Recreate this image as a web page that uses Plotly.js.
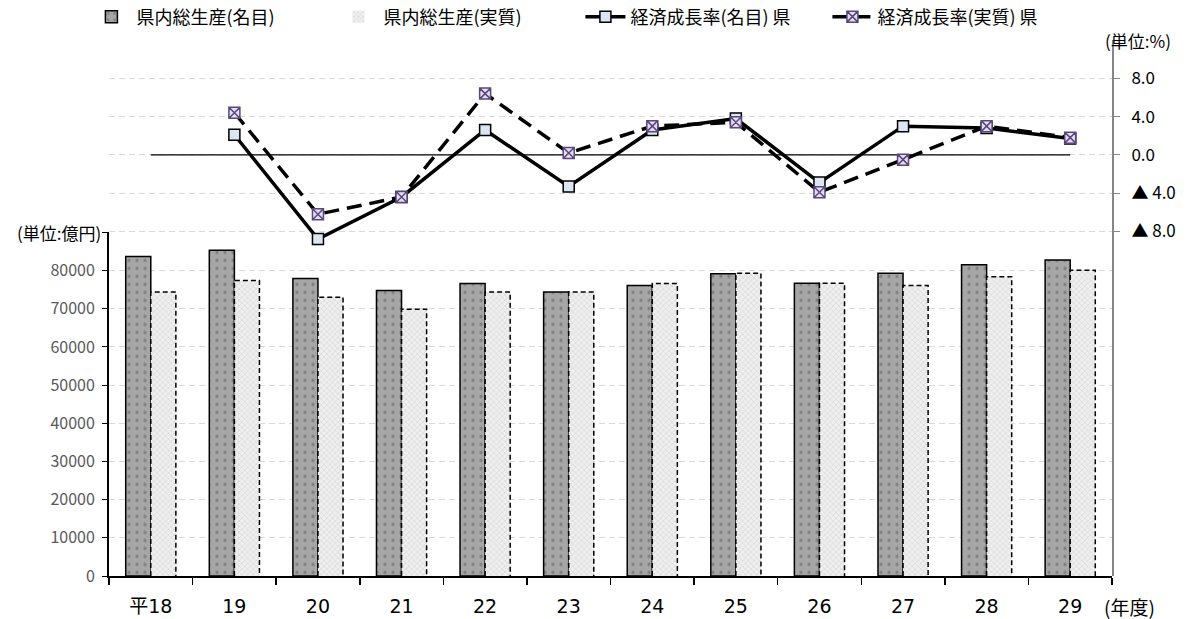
<!DOCTYPE html>
<html>
<head>
<meta charset="utf-8">
<script src="https://cdn.plot.ly/plotly-3.0.1.min.js"></script>
<style>
  html, body { margin: 0; padding: 0; background: #ffffff; }
  #chart { width: 1195px; height: 619px; }
</style>
</head>
<body>
<div id="chart"></div>
<script>
// 年度
const categories = ['平18', '19', '20', '21', '22', '23', '24', '25', '26', '27', '28', '29'];

// 県内総生産（億円）
const gdpNominal = [83700, 85300, 77900, 74800, 76600, 74400, 76100, 79200, 76700, 79300, 81500, 82800];
const gdpReal    = [74400, 77400, 73000, 69900, 74400, 74400, 76600, 79300, 76700, 76100, 78400, 80100];

// 経済成長率（%）
const growthNominal = [null, 2.1, -8.8, -4.4, 2.6, -3.3, 2.6, 3.8, -2.9, 3.0, 2.8, 1.7];
const growthReal    = [null, 4.4, -6.2, -4.4, 6.4, 0.2, 3.0, 3.4, -3.9, -0.5, 3.0, 1.8];

// 軸目盛
const gdpTicks = [0, 10000, 20000, 30000, 40000, 50000, 60000, 70000, 80000, 90000];
const gdpTickText = ['0', '10000', '20000', '30000', '40000', '50000', '60000', '70000', '80000', ''];
const rateTicks = [-8, -4, 0, 4, 8, 12];
const rateTickText = ['▲ 8.0', '▲ 4.0', '0.0', '4.0', '8.0', ''];

const FONT = '"Noto Sans CJK JP", "Noto Sans", sans-serif';
const FONT_WIDE = '"DejaVu Sans", "Noto Sans CJK JP", sans-serif';
const BAR_W = 0.3;

const traces = [
  {
    type: 'bar',
    name: '県内総生産(名目)',
    x: categories,
    y: gdpNominal,
    xaxis: 'x', yaxis: 'y',
    marker: {
      color: '#a6a6a6',
      line: { color: '#000000', width: 1.5 },
      pattern: { shape: '.', fgcolor: '#808080', bgcolor: '#a6a6a6', size: 8, solidity: 0.14, fillmode: 'replace' }
    },
    hoverinfo: 'x+y'
  },
  {
    type: 'bar',
    name: '県内総生産(実質)',
    x: categories,
    y: gdpReal,
    xaxis: 'x', yaxis: 'y',
    marker: {
      color: '#efefef',
      line: { color: 'rgba(0,0,0,0)', width: 0 },
      pattern: { shape: 'x', fgcolor: '#d6d6d6', bgcolor: '#efefef', size: 4, solidity: 0.3, fillmode: 'replace' }
    },
    hoverinfo: 'x+y'
  },
  {
    type: 'scatter',
    mode: 'lines+markers',
    name: '経済成長率(名目) 県',
    x: categories,
    y: growthNominal,
    xaxis: 'x', yaxis: 'y2',
    connectgaps: false,
    line: { color: '#000000', width: 3.5 },
    marker: { symbol: 'square', size: 11, color: '#dce6f2', line: { color: '#000000', width: 1.5 } }
  },
  {
    type: 'scatter',
    mode: 'lines+markers',
    name: '経済成長率(実質) 県',
    x: categories,
    y: growthReal,
    xaxis: 'x', yaxis: 'y2',
    connectgaps: false,
    line: { color: '#000000', width: 3.5, dash: '15px,8px' },
    marker: { symbol: 'square-x', size: 11, color: '#e4dfec', line: { color: '#5b4680', width: 1.5 } }
  }
];

// 実質の棒の破線の枠
const shapes = gdpReal.map((v, i) => ({
  type: 'path',
  xref: 'x', yref: 'y',
  path: `M ${i},0 L ${i},${v} L ${i + BAR_W},${v} L ${i + BAR_W},0`,
  line: { color: '#000000', width: 1.5, dash: '5px,3px' },
  fillcolor: 'rgba(0,0,0,0)',
  layer: 'above'
}));

// 成長率 0% の基準線
shapes.push({
  type: 'line',
  xref: 'x', yref: 'y2',
  x0: 0, x1: categories.length - 1,
  y0: 0, y1: 0,
  line: { color: '#000000', width: 1.3 },
  layer: 'between'
});

const layout = {
  width: 1195,
  height: 619,
  margin: { l: 109, r: 83, t: 40, b: 43, autoexpand: false },
  paper_bgcolor: '#ffffff',
  plot_bgcolor: 'rgba(0,0,0,0)',
  font: { family: FONT, color: '#000000', size: 15 },
  barmode: 'group',
  bargap: 0.4,
  bargroupgap: 0,
  showlegend: true,
  legend: {
    orientation: 'h',
    x: 0.47, xanchor: 'center',
    y: 1.043, yanchor: 'middle',
    font: { family: FONT, size: 18, color: '#000000' },
    bgcolor: 'rgba(0,0,0,0)',
    itemwidth: 40,
    entrywidth: 192,
    entrywidthmode: 'pixels',
    traceorder: 'normal'
  },
  xaxis: {
    type: 'category',
    range: [-0.5, categories.length - 0.5],
    domain: [0, 1],
    anchor: 'y',
    showline: true,
    linecolor: '#000000',
    linewidth: 2,
    ticks: 'outside',
    tickson: 'boundaries',
    ticklen: 7,
    tickwidth: 1.5,
    tickcolor: '#000000',
    ticklabelstandoff: 12,
    tickfont: { family: FONT_WIDE, size: 19, color: '#000000' },
    showgrid: false,
    zeroline: false,
    fixedrange: true
  },
  yaxis: {
    domain: [0, 0.641],
    range: [0, 90000],
    anchor: 'x',
    tickvals: gdpTicks,
    ticktext: gdpTickText,
    tickfont: { family: FONT, size: 16, color: '#595959' },
    showline: true,
    linecolor: '#000000',
    linewidth: 2,
    ticks: 'outside',
    ticklen: 5,
    tickwidth: 1,
    tickcolor: '#000000',
    ticklabelstandoff: 4,
    showgrid: true,
    gridcolor: '#d9d9d9',
    gridwidth: 1,
    griddash: '6px,4px',
    zeroline: false,
    fixedrange: true
  },
  yaxis2: {
    domain: [0, 1],
    range: [-44, 12],
    anchor: 'x',
    side: 'right',
    tickvals: rateTicks,
    ticktext: rateTickText,
    tickfont: { family: FONT, size: 17, color: '#000000' },
    showline: true,
    linecolor: '#868686',
    linewidth: 2,
    ticks: 'outside',
    ticklen: 6,
    tickwidth: 1,
    tickcolor: '#868686',
    ticklabelstandoff: 8,
    showgrid: true,
    gridcolor: '#d9d9d9',
    gridwidth: 1,
    griddash: '6px,4px',
    zeroline: false,
    fixedrange: true
  },
  shapes: shapes,
  annotations: [
    {
      text: '(単位:億円)',
      xref: 'paper', x: -0.006, xanchor: 'right',
      yref: 'y', y: 90000, yanchor: 'middle',
      showarrow: false,
      font: { family: FONT, size: 17, color: '#000000' }
    },
    {
      text: '(単位:%)',
      xref: 'paper', x: 1.026, xanchor: 'center',
      yref: 'y2', y: 12, yanchor: 'middle',
      showarrow: false,
      font: { family: FONT, size: 17, color: '#000000' }
    },
    {
      text: '(年度)',
      xref: 'paper', x: 1.017, xanchor: 'center',
      yref: 'paper', y: -0.057, yanchor: 'middle',
      showarrow: false,
      font: { family: FONT, size: 19, color: '#000000' }
    }
  ]
};

Plotly.newPlot('chart', traces, layout, { displayModeBar: false, staticPlot: true });
</script>
</body>
</html>
